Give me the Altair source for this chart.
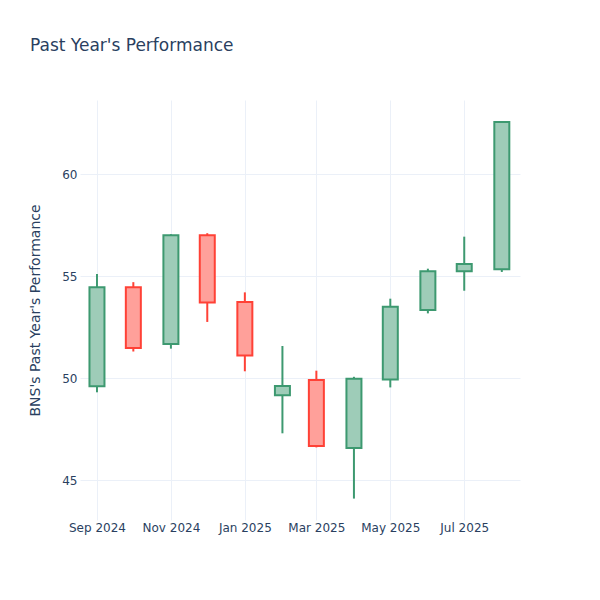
import altair as alt
import pandas as pd

dates = ["2024-09-01", "2024-10-01", "2024-11-01", "2024-12-01", "2025-01-01", "2025-02-01",
         "2025-03-01", "2025-04-01", "2025-05-01", "2025-06-01", "2025-07-01", "2025-08-01"]
opens = [49.60, 54.45, 51.67, 57.00, 53.73, 49.15, 49.90, 46.57, 49.93, 53.33, 55.23, 55.33]
highs = [55.10, 54.70, 57.05, 57.10, 54.20, 51.57, 50.36, 50.06, 53.89, 55.36, 56.93, 62.60]
lows = [49.30, 51.30, 51.44, 52.75, 50.33, 47.29, 46.60, 44.09, 49.54, 53.17, 54.28, 55.20]
closes = [54.45, 51.47, 57.00, 53.70, 51.11, 49.61, 46.67, 49.97, 53.50, 55.23, 55.59, 62.55]

df = pd.DataFrame({"date": dates, "open": opens, "high": highs, "low": lows, "close": closes})
df["dir"] = ["up" if c >= o else "down" for o, c in zip(opens, closes)]

FONT = "DejaVu Sans"
TXT = "#2a3f5f"
GRID = "#EBF0F8"

x_enc = alt.X(
    "date:T",
    scale=alt.Scale(type="utc", padding=0,
                    domain=[alt.DateTime(year=2024, month=8, date=18, utc=True),
                            alt.DateTime(year=2025, month=8, date=16, utc=True)]),
    axis=alt.Axis(
        title=None, format="%b %Y",
        values=[alt.DateTime(year=2024, month=9, date=1, utc=True),
                alt.DateTime(year=2024, month=11, date=1, utc=True),
                alt.DateTime(year=2025, month=1, date=1, utc=True),
                alt.DateTime(year=2025, month=3, date=1, utc=True),
                alt.DateTime(year=2025, month=5, date=1, utc=True),
                alt.DateTime(year=2025, month=7, date=1, utc=True)],
        ticks=False, domain=False, grid=True, gridColor=GRID,
        labelFont=FONT, labelFontSize=12, labelColor=TXT, labelPadding=2,
    ),
)

y_scale = alt.Scale(domain=[43.04, 63.63], nice=False, zero=False)
y_axis = alt.Axis(
    title="BNS's Past Year's Performance", values=[45, 50, 55, 60],
    ticks=False, domain=False, grid=True, gridColor=GRID,
    labelFont=FONT, labelFontSize=12, labelColor=TXT, labelPadding=3,
    titleFont=FONT, titleFontSize=14, titleColor=TXT, titleFontWeight="normal",
    titleX=-45, titleY=210, titleAngle=-90, titleAlign="center", titleBaseline="middle",
)

stroke_scale = alt.Scale(domain=["up", "down"], range=["#3D9970", "#FF4136"])
fill_scale = alt.Scale(domain=["up", "down"], range=["#9ECCB8", "#FFA09A"])

base = alt.Chart(df)

wick = base.mark_rule(strokeWidth=2).encode(
    x=x_enc,
    y=alt.Y("low:Q", scale=y_scale, axis=y_axis),
    y2="high:Q",
    color=alt.Color("dir:N", scale=stroke_scale, legend=None),
)

body = base.mark_bar(size=15, strokeWidth=2).encode(
    x="date:T",
    y="open:Q",
    y2="close:Q",
    fill=alt.Fill("dir:N", scale=fill_scale, legend=None),
    stroke=alt.Stroke("dir:N", scale=stroke_scale, legend=None),
)

chart = alt.layer(wick, body).properties(
    width=440, height=420,
    autosize=alt.AutoSizeParams(type="none"),
    padding={"left": 72, "top": 92, "right": 72, "bottom": 72},
    background="white",
    title=alt.TitleParams(
        "Past Year's Performance", anchor="start", frame="group", dx=-50, offset=32,
        baseline="alphabetic", font=FONT, fontSize=17, fontWeight="normal", color=TXT,
    ),
).configure_view(stroke=None)

chart.save("out.html", embed_options={"renderer": "svg", "actions": False})
